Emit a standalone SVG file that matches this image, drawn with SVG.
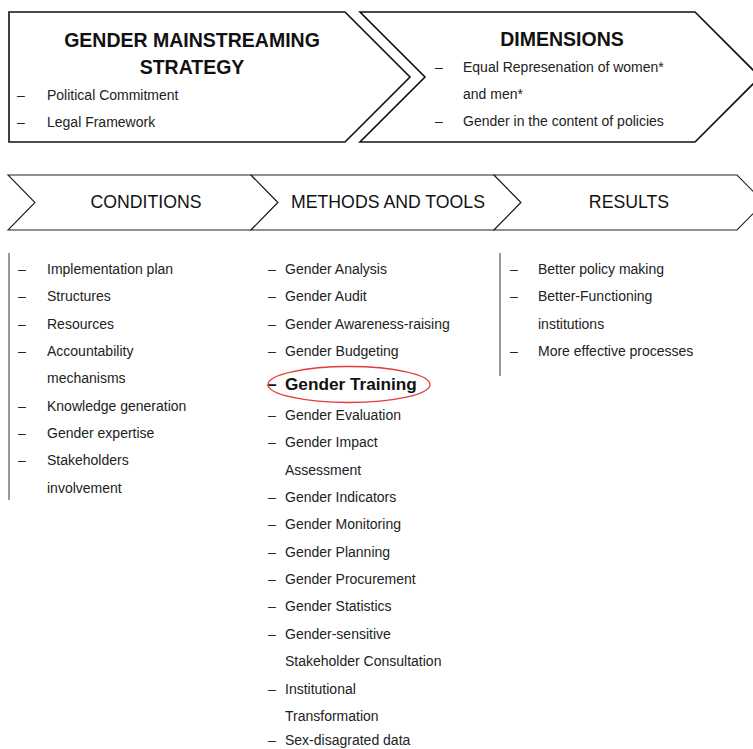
<svg xmlns="http://www.w3.org/2000/svg" width="753" height="749" viewBox="0 0 753 749">
<style>
.box{fill:#fff;stroke:#111;stroke-width:1.6;stroke-linejoin:miter}
.chev{fill:#fff;stroke:#222;stroke-width:1.1}
.h{font-family:"Liberation Sans",Arial,sans-serif;font-weight:bold;font-size:19.5px;fill:#111;text-anchor:middle}
.c{font-family:"Liberation Sans",Arial,sans-serif;font-size:17.7px;fill:#111;text-anchor:middle}
.t{font-family:"Liberation Sans",Arial,sans-serif;font-size:14px;fill:#222}
.b{font-family:"Liberation Sans",Arial,sans-serif;font-weight:bold;font-size:17.2px;fill:#111}
.vl{stroke:#333;stroke-width:1}
</style>
<rect width="753" height="749" fill="#fff"/>
<g id="strategy">
<path class="box" d="M9,12 L345,12 L410,77 L345,142 L9,142 Z"/>
<text class="h" x="192" y="46.5">GENDER MAINSTREAMING</text>
<text class="h" x="192" y="73.5">STRATEGY</text>
<text class="t" x="17" y="99.5">–</text><text class="t" x="47" y="99.5">Political Commitment</text>
<text class="t" x="17" y="126.5">–</text><text class="t" x="47" y="126.5">Legal Framework</text>
</g>
<g id="dimensions">
<path class="box" d="M360,12 L695,12 L760,77 L695,142 L360,142 L425,77 Z"/>
<text class="h" x="562" y="45.5">DIMENSIONS</text>
<text class="t" x="435" y="71.5">–</text><text class="t" x="463" y="71.5">Equal Represenation of women*</text>
<text class="t" x="463" y="99">and men*</text>
<text class="t" x="435" y="126">–</text><text class="t" x="463" y="126">Gender in the content of policies</text>
</g>
<g id="conditions">
<path class="chev" d="M8,175 L251,175 L278,202.5 L251,230 L8,230 L35,202.5 Z"/>
<text class="c" x="146" y="208">CONDITIONS</text>
</g>
<g id="methods">
<path class="chev" d="M251,175 L494,175 L521,202.5 L494,230 L251,230 L278,202.5 Z"/>
<text class="c" x="388" y="208">METHODS AND TOOLS</text>
</g>
<g id="results">
<path class="chev" d="M494,175 L737,175 L764,202.5 L737,230 L494,230 L521,202.5 Z"/>
<text class="c" x="629" y="208">RESULTS</text>
</g>
<g id="conditions-list">
<line class="vl" x1="9" y1="253" x2="9" y2="500"/>
<text class="t" x="18" y="274">–</text><text class="t" x="47" y="274">Implementation plan</text>
<text class="t" x="18" y="301.3">–</text><text class="t" x="47" y="301.3">Structures</text>
<text class="t" x="18" y="328.6">–</text><text class="t" x="47" y="328.6">Resources</text>
<text class="t" x="18" y="356">–</text><text class="t" x="47" y="356">Accountability</text>
<text class="t" x="47" y="383.3">mechanisms</text>
<text class="t" x="18" y="410.6">–</text><text class="t" x="47" y="410.6">Knowledge generation</text>
<text class="t" x="18" y="438">–</text><text class="t" x="47" y="438">Gender expertise</text>
<text class="t" x="18" y="465.3">–</text><text class="t" x="47" y="465.3">Stakeholders</text>
<text class="t" x="47" y="492.6">involvement</text>
</g>
<g id="methods-list">
<text class="t" x="268" y="274">–</text><text class="t" x="285" y="274">Gender Analysis</text>
<text class="t" x="268" y="301">–</text><text class="t" x="285" y="301">Gender Audit</text>
<text class="t" x="268" y="329">–</text><text class="t" x="285" y="329">Gender Awareness-raising</text>
<text class="t" x="268" y="356">–</text><text class="t" x="285" y="356">Gender Budgeting</text>
<text class="b" x="267" y="390">–</text><text class="b" x="285" y="390">Gender Training</text>
<ellipse cx="349" cy="384.5" rx="81" ry="18" fill="none" stroke="#e23b3b" stroke-width="1.3"/>
<text class="t" x="268" y="420">–</text><text class="t" x="285" y="420">Gender Evaluation</text>
<text class="t" x="268" y="447">–</text><text class="t" x="285" y="447">Gender Impact</text>
<text class="t" x="285" y="475">Assessment</text>
<text class="t" x="268" y="502">–</text><text class="t" x="285" y="502">Gender Indicators</text>
<text class="t" x="268" y="529">–</text><text class="t" x="285" y="529">Gender Monitoring</text>
<text class="t" x="268" y="557">–</text><text class="t" x="285" y="557">Gender Planning</text>
<text class="t" x="268" y="584">–</text><text class="t" x="285" y="584">Gender Procurement</text>
<text class="t" x="268" y="611">–</text><text class="t" x="285" y="611">Gender Statistics</text>
<text class="t" x="268" y="639">–</text><text class="t" x="285" y="639">Gender-sensitive</text>
<text class="t" x="285" y="666">Stakeholder Consultation</text>
<text class="t" x="268" y="694">–</text><text class="t" x="285" y="694">Institutional</text>
<text class="t" x="285" y="721">Transformation</text>
<text class="t" x="268" y="745">–</text><text class="t" x="285" y="745">Sex-disagrated data</text>
</g>
<g id="results-list">
<line class="vl" x1="500" y1="253" x2="500" y2="376"/>
<text class="t" x="510" y="274">–</text><text class="t" x="538" y="274">Better policy making</text>
<text class="t" x="510" y="301">–</text><text class="t" x="538" y="301">Better-Functioning</text>
<text class="t" x="538" y="329">institutions</text>
<text class="t" x="510" y="356">–</text><text class="t" x="538" y="356">More effective processes</text>
</g>
<g id="connectors"/>
</svg>
